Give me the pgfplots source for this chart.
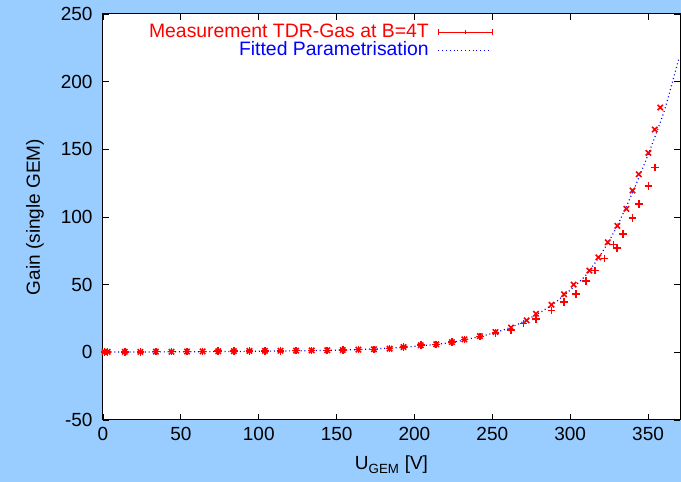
\documentclass[border=0pt]{standalone}
\usepackage{pgfplots}
\pgfplotsset{compat=1.18}
\usepackage{fontspec}
\setmainfont{Liberation Sans}
\definecolor{bgblue}{RGB}{153,204,255}
\definecolor{mred}{RGB}{255,0,0}
\definecolor{fblue}{RGB}{0,0,255}

\pgfplotstableread{
x y
1 0.3
3 0.3
14 0.4
24 0.4
34 0.5
44 0.5
54 0.6
64 0.7
74 0.8
84 0.9
94 1.0
104 1.1
114 1.2
124 1.3
134 1.4
144 1.5
154 1.7
164 2.0
174 2.2
184 2.7
193 3.9
204 5.2
214 5.9
224 7.6
232 9.6
242 12
252 15
262 18.3
272 23.6
278 28.5
288 35.2
296 42.9
302.2 50
312.3 60.4
318.1 70.2
324.1 81.3
330.3 93.4
336 106
340 119.5
344 131.6
350.2 147.3
354.3 164.6
357.8 180.9
}\measX

\pgfplotstableread{
x y
1 0.3
3 0.3
14 0.4
24 0.4
34 0.5
44 0.5
54 0.6
64 0.7
74 0.8
84 0.9
94 1.0
104 1.1
114 1.2
124 1.3
134 1.4
144 1.5
154 1.7
164 2.0
174 2.2
184 2.7
193 3.9
204 5.2
214 5.9
224 7.6
232 9.6
242 11.8
252 14.5
262 16.3
270 21.2
278 24.8
288 30.8
296 37.2
303.6 43.3
310 52.5
316 60.4
322 69.2
327.7 79.6
330.1 77.1
334 87.5
340 99.3
344 109.4
350.2 123
354.3 136.7
}\measP

\pgfplotstableread{
x y
0 0.2
50 0.4
100 0.8
150 1.6
175 2.6
200 4.4
225 7.6
250 14
265 20
280 29
290 36.5
300 46
310 57
320 73
330 93
340 118
350 146
360 177
365 197
370 218
}\fit

\begin{document}
\fontsize{19}{22}\selectfont
\begin{tikzpicture}
\fill[bgblue] (-103pt,-62pt) rectangle (578pt,420pt);
\begin{axis}[
  scale only axis,
  width=577pt, height=406pt,
  at={(0pt,0pt)}, anchor=south west,
  xmin=0, xmax=370.5,
  ymin=-50, ymax=250,
  xtick={0,50,...,350},
  ytick={-50,0,...,250},
  tick align=inside,
  major tick length=6pt,
  axis background/.style={fill=white},
  axis line style={black, line width=1pt},
  tick style={black, line width=0.8pt},
  /pgf/number format/assume math mode=true,
  xticklabel style={yshift=-1pt},
  yticklabel style={xshift=-4pt},
  xlabel={U\textsubscript{GEM} [V]},
  ylabel={Gain (single GEM)},
  every axis x label/.style={at={(axis description cs:0.5,-0.111)}, anchor=center},
  every axis y label/.style={at={(axis description cs:-0.118,0.5)}, anchor=center, rotate=90},
  clip=false,
  legend plot pos=right,
  legend cell align=right,
  legend style={at={(axis description cs:0.676,0.978)}, anchor=north east, draw=none, fill=none, inner sep=0pt, row sep=0pt, column sep=9pt, font=\fontsize{19.4}{22}\selectfont, nodes={inner ysep=0pt, text height=14pt, text depth=4.5pt, inner xsep=0pt}},
]
\addplot[only marks, mark=x, mark size=3.8pt, color=mred, line width=1.6pt, mark options={draw=mred, solid},
  legend image code/.code={
    \draw[mred, line width=0.9pt] (0pt,0pt) -- (54pt,0pt);
    \draw[mred, line width=0.9pt] (0pt,-3pt) -- (0pt,3pt);
    \draw[mred, line width=0.9pt] (27pt,-2pt) -- (27pt,2pt);
    \draw[mred, line width=0.9pt] (54pt,-3pt) -- (54pt,3pt);
  }] table[x=x,y=y] {\measX};
\addlegendentry{\textcolor{mred}{Measurement TDR-Gas at B=4T}}
\addplot[only marks, mark=+, mark size=3.8pt, color=mred, line width=1.6pt, mark options={draw=mred, solid}, forget plot] table[x=x,y=y] {\measP};
\addplot[fblue, line width=1.2pt, dash pattern=on 1pt off 2.8pt, smooth, no marks,
  legend image code/.code={
    \draw[fblue, line width=1.2pt, dash pattern=on 1pt off 2.8pt] (0pt,0pt) -- (52pt,0pt);
  }] table[x=x,y=y] {\fit};
\addlegendentry{\textcolor{fblue}{Fitted Parametrisation}}
\end{axis}
\pgfresetboundingbox
\path (-103pt,-62pt) rectangle (578pt,420pt);
\end{tikzpicture}
\end{document}
